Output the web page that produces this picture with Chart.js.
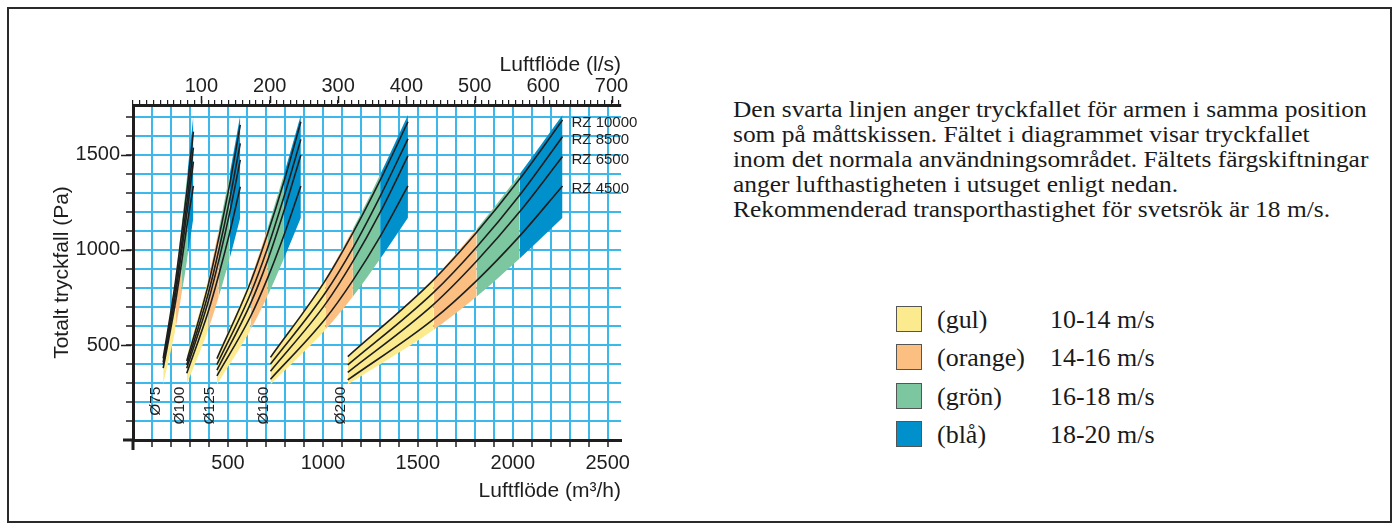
<!DOCTYPE html>
<html>
<head>
<meta charset="utf-8">
<script src="https://cdn.jsdelivr.net/npm/chart.js@4/dist/chart.umd.min.js"></script>
<style>
  html, body { margin: 0; padding: 0; background: #fff; }
  body { width: 1399px; height: 531px; position: relative; overflow: hidden; }
  #frame { position: absolute; left: 7px; top: 7px; width: 1381px; height: 512px; border: 2px solid #2a2a2a; }
  #chart { position: absolute; left: 0; top: 0; }
  #note { position: absolute; left: 733px; top: 97px; font-family: "Liberation Serif", serif; font-size: 24px; line-height: 25px; color: #1a1a1a; white-space: nowrap; transform: scaleX(1.06); transform-origin: 0 0; }
  .row { position: absolute; left: 896px; height: 27px; font-family: "Liberation Serif", serif; font-size: 24.5px; color: #1a1a1a; white-space: nowrap; }
  .sq { position: absolute; left: 0; top: 0; width: 24px; height: 24px; border: 1.5px solid #555; }
  .nm, .vv { position: absolute; top: 0; line-height: 27px; transform: scaleX(1.06); transform-origin: 0 0; }
  .nm { left: 41px; }
  .vv { left: 154px; }
</style>
</head>
<body>
<div id="frame"></div>
<canvas id="chart" width="700" height="531"></canvas>
<div id="note">Den svarta linjen anger tryckfallet för armen i samma position<br>som på måttskissen. Fältet i diagrammet visar tryckfallet<br>inom det normala användningsområdet. Fältets färgskiftningar<br>anger lufthastigheten i utsuget enligt nedan.<br>Rekommenderad transporthastighet för svetsrök är 18 m/s.</div>
<div id="legend"></div>
<script>
// duct sizes and arm types
const diameters = ['Ø75', 'Ø100', 'Ø125', 'Ø160', 'Ø200'];
const rzNames = ['RZ 10000', 'RZ 8500', 'RZ 6500', 'RZ 4500'];
const bandNames = ['(gul)', '(orange)', '(grön)', '(blå)'];
const bandSpeeds = ['10-14 m/s', '14-16 m/s', '16-18 m/s', '18-20 m/s'];
const bandColors = ['#fbeb8e', '#fbc081', '#7cc79f', '#0090cb'];

// flow (m3/h) where the colour changes: 10, 14, 16, 18, 20 m/s
const flow75  = [159, 223, 254, 286, 318];
const flow100 = [283, 396, 452, 509, 565];
const flow125 = [442, 619, 707, 795, 884];
const flow160 = [724, 1013, 1158, 1303, 1448];
const flow200 = [1131, 1583, 1810, 2036, 2262];

// edges of the coloured field (Pa) at those flows
const fieldTop    = [440, 850, 1110, 1400, 1710];
const fieldBottom = [292, 580, 755, 955, 1170];

// pressure drop (Pa) per arm: RZ 10000, 8500, 6500, 4500
const rz75 = [
  [430, 830, 1070, 1330, 1623],
  [410, 790, 1015, 1265, 1539],
  [395, 760, 975, 1210, 1465],
  [378, 720, 920, 1140, 1337]];
const rz100 = [
  [416, 815, 1065, 1345, 1658],
  [395, 770, 1000, 1265, 1561],
  [377, 728, 945, 1195, 1474],
  [351, 675, 870, 1090, 1333]];
const rz125 = [
  [428, 830, 1080, 1360, 1675],
  [397, 770, 1005, 1280, 1582],
  [368, 718, 940, 1205, 1500],
  [338, 650, 848, 1078, 1337]];
const rz160 = [
  [435, 840, 1090, 1370, 1675],
  [400, 775, 1010, 1285, 1585],
  [362, 715, 940, 1200, 1495],
  [320, 638, 840, 1073, 1337]];
const rz200 = [
  [439, 843, 1093, 1373, 1684],
  [395, 777, 1016, 1288, 1596],
  [356, 714, 942, 1201, 1492],
  [316, 636, 839, 1073, 1337]];

// tick labels
const m3hLabels = [500, 1000, 1500, 2000, 2500];
const lsLabels = [100, 200, 300, 400, 500, 600, 700];
const paLabels = [500, 1000, 1500];

const xMax = 2570;
const yMax = 1763;
const gridBlue = '#3db8ea';
const ink = '#1e1e1e';

const groups = [
  { name: diameters[0], flow: flow75, rz: rz75 },
  { name: diameters[1], flow: flow100, rz: rz100 },
  { name: diameters[2], flow: flow125, rz: rz125 },
  { name: diameters[3], flow: flow160, rz: rz160 },
  { name: diameters[4], flow: flow200, rz: rz200 }
];

let datasets = [];
groups.forEach(g => {
  datasets.push({
    data: g.flow.map((x, i) => ({ x: x, y: fieldTop[i] })),
    fill: '+1',
    backgroundColor: bandColors[0],
    segment: { backgroundColor: c => bandColors[c.p0DataIndex] },
    borderWidth: 0, pointRadius: 0, order: 2,
    cubicInterpolationMode: 'monotone'
  });
  datasets.push({
    data: g.flow.map((x, i) => ({ x: x, y: fieldBottom[i] })),
    fill: false, borderWidth: 0, pointRadius: 0, order: 2,
    cubicInterpolationMode: 'monotone'
  });
});
groups.forEach(g => {
  g.rz.forEach(vals => {
    datasets.push({
      data: g.flow.map((x, i) => ({ x: x, y: vals[i] })),
      fill: false, borderColor: ink, borderWidth: 1.6, pointRadius: 0, order: 1,
      cubicInterpolationMode: 'monotone'
    });
  });
});

// tick positions every `step` from 0 up to `last`
function stepTicks(step, last) {
  let t = [];
  for (let v = 0; v <= last + 1e-6; v += step) t.push({ value: v });
  return t;
}

const tickFont = { family: 'Liberation Sans', size: 20 };
const titleFont = { family: 'Liberation Sans', size: 21 };

const textPlugin = {
  id: 'texts',
  afterDraw(chart) {
    const ctx = chart.ctx;
    const x = chart.scales.x, y = chart.scales.y, x2 = chart.scales.x2;
    const area = chart.chartArea;
    ctx.save();
    ctx.strokeStyle = ink;
    // longer ticks at labelled values
    ctx.lineWidth = 1.5;
    ctx.beginPath();
    lsLabels.forEach(v => {
      const px = Math.round(x2.getPixelForValue(v)) + 0.5;
      ctx.moveTo(px, area.top - 2);
      ctx.lineTo(px, area.top - 9);
    });
    paLabels.forEach(v => {
      const py = Math.round(y.getPixelForValue(v)) + 0.5;
      ctx.moveTo(area.left - 2, py);
      ctx.lineTo(area.left - 12, py);
    });
    ctx.stroke();
    // axis stubs at the origin
    ctx.lineWidth = 3;
    ctx.beginPath();
    ctx.moveTo(area.left - 10, area.bottom);
    ctx.lineTo(area.left, area.bottom);
    ctx.moveTo(area.left, area.bottom);
    ctx.lineTo(area.left, area.bottom + 10);
    ctx.stroke();

    ctx.fillStyle = ink;
    ctx.font = '15px "Liberation Sans"';
    ctx.textBaseline = 'middle';
    const last = groups[groups.length - 1];
    last.rz.forEach((vals, i) => {
      ctx.fillText(rzNames[i], x.getPixelForValue(last.flow[4]) + 9, y.getPixelForValue(vals[4]) + 3);
    });
    ctx.font = '15.5px "Liberation Sans"';
    groups.forEach(g => {
      ctx.save();
      ctx.translate(x.getPixelForValue(g.flow[0]) - 7, y.getPixelForValue(fieldBottom[0]) + 2);
      ctx.rotate(-Math.PI / 2);
      ctx.textAlign = 'right';
      ctx.fillText(g.name, 0, 0);
      ctx.restore();
    });
    ctx.restore();
  }
};

new Chart(document.getElementById('chart'), {
  type: 'line',
  data: { datasets: datasets },
  plugins: [textPlugin],
  options: {
    responsive: false,
    animation: false,
    layout: { padding: { left: 46, top: 45, right: 79, bottom: 21 } },
    plugins: { legend: { display: false }, tooltip: { enabled: false } },
    scales: {
      x: {
        type: 'linear', position: 'bottom', min: 0, max: xMax,
        afterBuildTicks: s => { s.ticks = stepTicks(100, 2500); },
        afterFit: s => { s.height = 70; },
        grid: { color: gridBlue, lineWidth: 2, tickColor: ink, tickLength: 7, tickWidth: 1.5 },
        border: { color: ink, width: 3 },
        ticks: {
          autoSkip: false, maxRotation: 0, padding: 4, color: ink, font: tickFont,
          callback: v => m3hLabels.includes(Math.round(v)) ? String(Math.round(v)) : ''
        },
        title: { display: true, text: 'Luftflöde (m³/h)', align: 'end', color: ink, font: titleFont, padding: { top: 0, bottom: 6 } }
      },
      x2: {
        type: 'linear', position: 'top', min: 0, max: xMax / 3.6,
        afterBuildTicks: s => { s.ticks = stepTicks(10, 710); },
        afterFit: s => { s.height = 60; },
        grid: { drawOnChartArea: false, color: ink, tickLength: 5, lineWidth: 1.2 },
        border: { color: ink, width: 3 },
        ticks: {
          autoSkip: false, maxRotation: 0, padding: 2, color: ink, font: tickFont,
          callback: v => lsLabels.includes(Math.round(v)) ? String(Math.round(v)) : ''
        },
        title: { display: true, text: 'Luftflöde (l/s)', align: 'end', color: ink, font: titleFont, padding: { top: 8, bottom: 0 } }
      },
      y: {
        min: 0, max: yMax,
        afterBuildTicks: s => { s.ticks = stepTicks(100, 1700); },
        afterFit: s => { s.width = 87; },
        grid: { color: gridBlue, lineWidth: 2, tickColor: ink, tickLength: 7, tickWidth: 1.5 },
        border: { color: ink, width: 3 },
        ticks: {
          autoSkip: false, padding: 6, color: ink, font: tickFont,
          callback: v => paLabels.includes(Math.round(v)) ? String(Math.round(v)) : ''
        },
        title: { display: true, text: 'Totalt tryckfall (Pa)', color: ink, font: titleFont, padding: { top: 4, bottom: 0 } }
      }
    }
  }
});

// legend rows on the right
const legend = document.getElementById('legend');
const rowTops = [306, 344, 383, 421];
bandNames.forEach((n, i) => {
  const row = document.createElement('div');
  row.className = 'row';
  row.style.top = rowTops[i] + 'px';
  row.innerHTML = '<div class="sq" style="background:' + bandColors[i] + '"></div>' +
    '<span class="nm">' + n + '</span><span class="vv">' + bandSpeeds[i] + '</span>';
  legend.appendChild(row);
});
</script>
</body>
</html>
